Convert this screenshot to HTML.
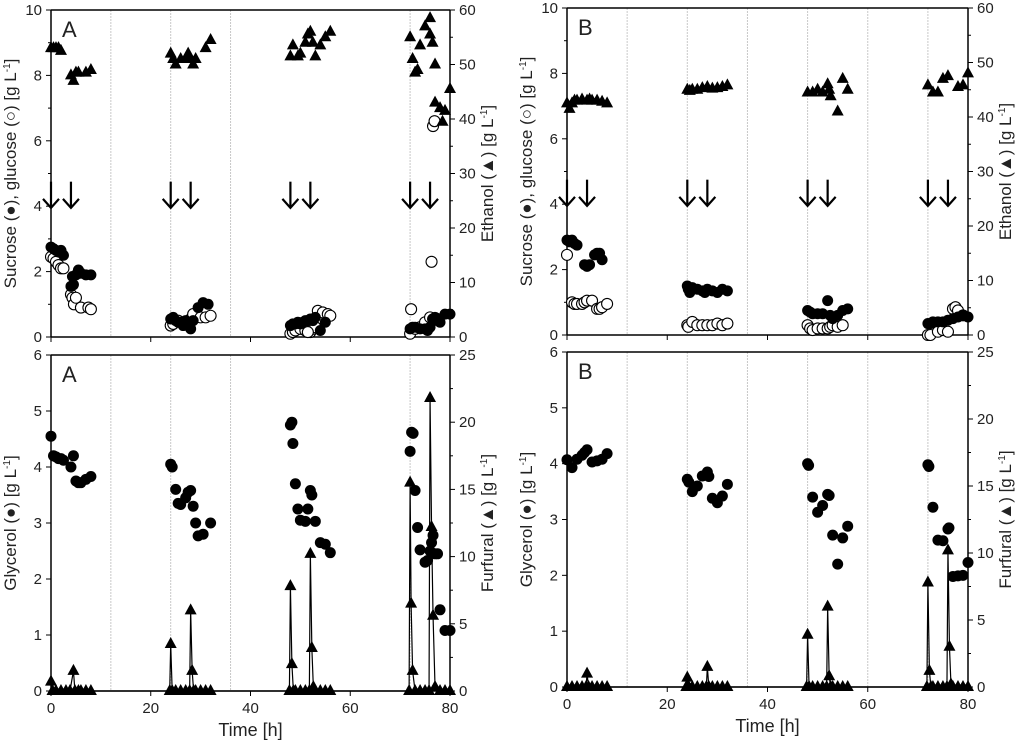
<!DOCTYPE html>
<html><head><meta charset="utf-8">
<style>
html,body{margin:0;padding:0;background:#fff;}
svg{display:block;font-family:"Liberation Sans",sans-serif;}
</style></head>
<body>
<svg id="chart" width="1024" height="748" viewBox="0 0 1024 748"></svg>
<script>
// ---------- Data ----------
const aEthanol = [[0,53],[0.5,53],[1,53],[1.5,53],[2,52.5],[4,48],[4.5,47],[5,48.5],[5.5,48.5],[7,48.5],[8,49],
[24,52],[24.5,51],[25,50],[26,51],[27,51],[27.5,52],[28,51],[28.5,50],[29,51],[31,53],[32,54.5],
[48,51.5],[48.5,53.5],[49.5,51.5],[50,52],[51,54],[51.5,55.5],[52,56],[52.5,54],[53,51.5],[54,53.5],[55,55],[56,56],
[72,55],[72.5,51],[73,48.5],[73.5,49],[74,53.5],[75,57],[76,58.5],[76,55.5],[76.5,54],[77,50],[77,43],[78,42],[78.5,39.5],[79,41.5],[80,45.5]];
const aSucrose = [[0,2.75],[0.5,2.7],[1,2.65],[1.5,2.6],[2,2.65],[2.5,2.5],[4,1.55],[4.5,1.6],[4.3,1.85],[5,1.9],[5.5,2.05],[6,1.95],[7,1.9],[8,1.9],
[24,0.55],[24.5,0.6],[25,0.5],[25.5,0.45],[26,0.45],[26.5,0.35],[27,0.5],[27.5,0.4],[28,0.25],[28.5,0.5],[29.5,0.9],[30.5,1.05],[31.5,1.0],
[48,0.35],[48.5,0.4],[49,0.4],[49.5,0.45],[50,0.4],[50.5,0.45],[51,0.5],[51.5,0.5],[52,0.55],[52.5,0.5],[53,0.6],[54,0.2],[55,0.45],
[72,0.25],[72.5,0.3],[73,0.3],[74,0.25],[75,0.25],[75.5,0.2],[76,0.3],[76.5,0.55],[77,0.6],[77.5,0.5],[78,0.45],[79,0.7],[80,0.7]];
const aGlucose = [[0,2.45],[0.5,2.4],[1,2.3],[1.5,2.2],[2,2.1],[2.5,2.1],[4,1.3],[4.3,1.2],[4.6,1.0],[5,1.2],[6,0.9],[7.5,0.9],[8,0.85],
[24,0.35],[24.5,0.4],[25.5,0.5],[26.5,0.45],[27.5,0.4],[28,0.55],[28.5,0.7],[30,0.6],[31,0.6],[32,0.65],
[48,0.1],[48.5,0.15],[49,0.2],[50,0.25],[51,0.2],[52,0.15],[52.5,0.25],[53,0.3],[51.5,0.15],[53.5,0.8],[54.5,0.75],[55.5,0.7],[56,0.65],
[72,0.1],[72.2,0.85],[73,0.25],[74,0.3],[75,0.45],[76,0.6],[76.3,2.3],[76.6,6.45],[76.9,6.6],[77.5,0.55]];
const aGlycerol = [[0,4.55],[0.5,4.2],[1,4.18],[1.5,4.15],[2,4.15],[2.5,4.12],[4,4.0],[4.5,4.2],[5,3.75],[5.5,3.72],[6,3.72],[7,3.78],[8,3.83],
[24,4.05],[24.3,4.0],[25,3.6],[25.5,3.35],[26,3.33],[27,3.45],[27.5,3.55],[28,3.58],[28.5,3.3],[29,3.0],[29.5,2.77],[30.5,2.8],[32,3.0],
[48,4.75],[48.3,4.8],[48.5,4.42],[49,3.7],[49.5,3.25],[50,3.05],[51,3.03],[51.5,3.25],[52,3.58],[52.3,3.5],[53,3.03],[54,2.65],[55,2.62],[56,2.47],
[72,4.28],[72.3,4.62],[72.6,4.6],[73,3.58],[73.5,2.92],[74,2.52],[75,2.3],[75.5,2.33],[76,2.5],[76.3,2.65],[76.6,2.78],[77,2.45],[77.5,2.45],[78,1.45],[79,1.08],[80,1.08]];
const aFurfural = [[0,0.7],[0.3,0],[1,0],[2,0],[3,0],[3.8,0],[4.5,1.5],[4.8,0],[5.5,0],[6,0],[7,0],[8,0],
[23.8,0],[24,3.5],[24.3,0],[25,0],[26,0],[27,0],[27.8,0],[28,6],[28.3,1.5],[28.6,0],[29,0],[30,0],[31,0],[32,0],
[47.8,0],[48,7.8],[48.3,2],[48.6,0],[49,0],[50,0],[51,0],[51.8,0],[52,10.2],[52.3,3.2],[52.6,0.3],[53,0],[54,0],[55,0],[56,0],
[71.8,0],[72,15.5],[72.2,6.5],[72.5,1.5],[73,0],[74,0],[75,0],[75.8,0],[76,21.8],[76.3,12.2],[76.6,5.6],[77,0.3],[78,0],[79,0],[80,0]];

const bEthanol = [[0,42.5],[0.5,41.5],[1,42.5],[1.5,43],[2,43],[3,43.2],[4,43],[4.5,43.2],[5,43],[6,43],[7,42.8],[8,42.5],
[24,45],[24.5,44.8],[25,45],[26,45],[27,45.3],[28,45.5],[29,45.2],[30,45.3],[31,45.5],[32,45.8],
[48,44.5],[49,44.5],[50,45],[51,44.5],[52,46],[52.3,45],[52.6,43.8],[54,41],[55,47],[56,45],
[72,45.8],[73,44.5],[74,44.5],[75,47],[76,47.5],[78,45.5],[79,45.8],[80,48]];
const bSucrose = [[0,2.9],[0.5,2.85],[1,2.9],[1.5,2.8],[2,2.75],[3.5,2.15],[4,2.1],[4.5,2.15],[5.5,2.45],[6,2.5],[6.5,2.5],[7,2.3],
[24,1.5],[24.2,1.4],[24.5,1.3],[25,1.45],[26,1.4],[27,1.35],[27.5,1.3],[28,1.4],[29,1.35],[30,1.3],[31,1.4],[32,1.35],
[48,0.75],[48.5,0.7],[49,0.65],[50,0.65],[51,0.65],[52,1.05],[52.5,0.6],[53,0.5],[54,0.6],[55,0.75],[56,0.8],
[72,0.35],[72.5,0.35],[73,0.4],[74,0.4],[75,0.4],[76,0.45],[77,0.5],[78,0.55],[79,0.6],[80,0.55]];
const bGlucose = [[0,2.45],[1,1.0],[1.5,0.95],[2,0.95],[3,0.95],[3.5,1.0],[4,1.05],[5,1.05],[6,0.8],[6.5,0.8],[7,0.85],[8,0.95],
[24,0.3],[24.2,0.25],[25,0.4],[26,0.3],[27,0.3],[28,0.3],[29,0.3],[30,0.35],[31,0.3],[32,0.35],
[48,0.3],[48.5,0.2],[49,0.15],[50,0.2],[51,0.2],[52,0.2],[52.5,0.25],[53,0.3],[54,0.25],[55,0.3],
[72,0.0],[72.5,0.0],[74,0.1],[75,0.15],[76,0.1],[77,0.8],[77.5,0.85],[78,0.75],[79,0.6]];
const bGlycerol = [[0,4.07],[1,3.93],[2,4.08],[3,4.15],[3.5,4.2],[4,4.25],[5,4.03],[6,4.05],[7,4.08],[8,4.18],
[24,3.72],[24.3,3.67],[25,3.5],[26,3.6],[27,3.78],[28,3.85],[28.3,3.77],[29,3.38],[30,3.3],[31,3.42],[32,3.63],
[48,4.0],[48.2,3.97],[49,3.4],[50,3.13],[51,3.25],[52,3.45],[52.3,3.43],[53,2.72],[54,2.2],[55,2.67],[56,2.88],
[72,3.98],[72.2,3.95],[73,3.22],[74,2.63],[75,2.62],[76,2.83],[76.2,2.85],[77,1.98],[78,1.99],[79,2.0],[80,2.23]];
const bFurfural = [[0,0],[1,0],[2,0],[3,0],[3.8,0],[4,1],[4.3,0],[5,0],[6,0],[7,0],[8,0],
[23.8,0],[24,0.7],[24.3,0],[25,0],[26,0],[27,0],[27.8,0],[28,1.5],[28.3,0],[29,0],[30,0],[31,0],[32,0],
[47.8,0],[48,3.9],[48.3,0],[49,0],[50,0],[51,0],[51.8,0],[52,6],[52.3,0.8],[52.6,0],[53,0],[54,0],[55,0],[56,0],
[71.8,0],[72,7.8],[72.3,1.2],[72.6,0],[73,0],[74,0],[75,0],[75.8,0],[76,10.2],[76.3,3],[76.6,0.2],[77,0],[78,0],[79,0],[80,0]];

const xTicks = [0,20,40,60,80];
const topLeftTicks = [0,2,4,6,8,10];
const topRightTicks = [0,10,20,30,40,50,60];
const botLeftTicks = [0,1,2,3,4,5,6];
const botRightTicks = [0,5,10,15,20,25];
const arrowTimes = [0,4,24,28,48,52,72,76];

const NS = "http://www.w3.org/2000/svg";
const svg = document.getElementById('chart');
function el(tag, attrs, parent, text){
  const e = document.createElementNS(NS, tag);
  for (const k in attrs) e.setAttribute(k, attrs[k]);
  if (text !== undefined) e.textContent = text;
  (parent||svg).appendChild(e);
  return e;
}

function panel(o){
  const g = el('g', {});
  
  
  const X = v => o.x0 + (o.x1 - o.x0) * v / 80;
  const YL = v => o.yb + (o.yt - o.yb) * v / o.lmax;
  const YR = v => o.yb + (o.yt - o.yb) * v / o.rmax;
  o.grid.forEach(t => {
    const l = el('line', {x1:X(t), x2:X(t), y1:o.yt, y2:o.yb, stroke:'#c8c8c8', 'stroke-width':1, 'stroke-dasharray':'2,1'}, g);
    
    
  });
  el('line', {x1:o.x0, x2:o.x1, y1:o.yt, y2:o.yt, stroke:'#000', 'stroke-width':1.5}, g);
  el('line', {x1:o.x0, x2:o.x1, y1:o.yb, y2:o.yb, stroke:'#000', 'stroke-width':1.5}, g);
  el('line', {x1:o.x0, x2:o.x0, y1:o.yt, y2:o.yb, stroke:'#000', 'stroke-width':1.5}, g);
  el('line', {x1:o.x1, x2:o.x1, y1:o.yt, y2:o.yb, stroke:'#000', 'stroke-width':1.5}, g);
  xTicks.forEach(t => {
    el('line', {x1:X(t), x2:X(t), y1:o.yb, y2:o.yb+5, stroke:'#000'}, g);
    if (o.xlabels){
      const tx = el('text', {x:X(t), y:o.yb+22, 'font-size':15, 'text-anchor':'middle', fill:'#222'}, g, String(t));
      
      
    }
  });
  o.lticks.forEach((t,i) => {
    el('line', {x1:o.x0-5, x2:o.x0, y1:YL(t), y2:YL(t), stroke:'#000'}, g);
    if (i < o.lticks.length-1 && o.lminor){
      const m = (t + o.lticks[i+1]) / 2;
      el('line', {x1:o.x0-3, x2:o.x0, y1:YL(m), y2:YL(m), stroke:'#000'}, g);
    }
    const tx = el('text', {x:o.x0-9, y:YL(t)+5, 'font-size':15, 'text-anchor':'end', fill:'#222'}, g, String(t));
    
    
  });
  o.rticks.forEach((t,i) => {
    el('line', {x1:o.x1, x2:o.x1+5, y1:YR(t), y2:YR(t), stroke:'#000'}, g);
    if (i < o.rticks.length-1){
      const m = (t + o.rticks[i+1]) / 2;
      el('line', {x1:o.x1, x2:o.x1+3, y1:YR(m), y2:YR(m), stroke:'#000'}, g);
    }
    const tx = el('text', {x:o.x1+9, y:YR(t)+5, 'font-size':15, 'text-anchor':'start', fill:'#222'}, g, String(t));
    
    
  });
  const cy = (o.yt + o.yb) / 2;
  const lt = el('text', {x:0, y:0, 'font-size':17, 'text-anchor':'middle', fill:'#222', transform:`translate(${o.x0-35},${cy}) rotate(-90)`}, g);
  
  
  lt.innerHTML = o.ltitle;
  const rt = el('text', {x:0, y:0, 'font-size':17, 'text-anchor':'middle', fill:'#222', transform:`translate(${o.x1+43},${cy}) rotate(-90)`}, g);
  
  
  rt.innerHTML = o.rtitle;
  if (o.xlabels){
    const xt = el('text', {x:(o.x0+o.x1)/2, y:o.yb+45, 'font-size':18, 'text-anchor':'middle', fill:'#222'}, g, 'Time [h]');
    
    
  }
  const letter = el('text', {x:o.x0+11, y:o.yt+27, 'font-size':22, fill:'#222'}, g, o.letter);
  
  

  if (o.arrows){
    arrowTimes.forEach(t => {
      const ax = X(t), y1 = YL(4.75), y2 = YL(3.95);
      const a = el('g', {stroke:'#000', 'stroke-width':2.2, fill:'none'}, g);
      
      
      el('line', {x1:ax, x2:ax, y1:y1, y2:y2}, a);
      el('polyline', {points:`${ax-8},${y2-9} ${ax},${y2} ${ax+8},${y2-9}`}, a);
    });
  }
  if (o.rline){
    const pts = o.rseries.map(p => X(p[0]) + ',' + YR(p[1])).join(' ');
    const pl = el('polyline', {points:pts, fill:'none', stroke:'#000', 'stroke-width':1.2}, g);
    
    
  }
  if (o.open){
    o.open.forEach(p => {
      const c = el('circle', {cx:X(p[0]), cy:YL(p[1]), r:5.5, fill:'#fff', stroke:'#000', 'stroke-width':1.1}, g);
      
      
    });
  }
  o.filled.forEach(p => {
    const c = el('circle', {cx:X(p[0]), cy:YL(p[1]), r:5.5, fill:'#000'}, g);
    
    
  });
  o.rseries.forEach(p => {
    const x = X(p[0]), y = YR(p[1]);
    const t = el('polygon', {points:`${x},${y-7} ${x-6},${y+4} ${x+6},${y+4}`, fill:'#000'}, g);
    
    
  });
}

const lTop = 'Sucrose (●), glucose (○) [g L<tspan dy="-6" font-size="10">-1</tspan><tspan dy="6">]</tspan>';
const rTop = 'Ethanol (▲) [g L<tspan dy="-6" font-size="10">-1</tspan><tspan dy="6">]</tspan>';
const lBot = 'Glycerol (●) [g L<tspan dy="-6" font-size="10">-1</tspan><tspan dy="6">]</tspan>';
const rBot = 'Furfural (▲) [g L<tspan dy="-6" font-size="10">-1</tspan><tspan dy="6">]</tspan>';

panel({name:'panel-top-a', x0:51, x1:450, yt:10, yb:337, lmax:10, rmax:60, lticks:topLeftTicks, rticks:topRightTicks, lminor:true,
  grid:[12,24,36,72], ltitle:lTop, rtitle:rTop, letter:'A', arrows:true, open:aGlucose, filled:aSucrose, filledName:'sucrose-point',
  rseries:aEthanol, triName:'ethanol-point', rline:false, xlabels:false});
panel({name:'panel-top-b', x0:567, x1:968, yt:8, yb:335, lmax:10, rmax:60, lticks:topLeftTicks, rticks:topRightTicks, lminor:true,
  grid:[12,24,36,48,60,72], ltitle:lTop, rtitle:rTop, letter:'B', arrows:true, open:bGlucose, filled:bSucrose, filledName:'sucrose-point',
  rseries:bEthanol, triName:'ethanol-point', rline:false, xlabels:false});
panel({name:'panel-bottom-a', x0:51, x1:450, yt:355, yb:691, lmax:6, rmax:25, lticks:botLeftTicks, rticks:botRightTicks, lminor:false,
  grid:[12,24,36,72], ltitle:lBot, rtitle:rBot, letter:'A', arrows:false, open:null, filled:aGlycerol, filledName:'glycerol-point',
  rseries:aFurfural, triName:'furfural-point', rline:true, xlabels:true});
panel({name:'panel-bottom-b', x0:567, x1:968, yt:352, yb:687, lmax:6, rmax:25, lticks:botLeftTicks, rticks:botRightTicks, lminor:false,
  grid:[12,24,36,48,60,72], ltitle:lBot, rtitle:rBot, letter:'B', arrows:false, open:null, filled:bGlycerol, filledName:'glycerol-point',
  rseries:bFurfural, triName:'furfural-point', rline:true, xlabels:true});
</script>
</body></html>
